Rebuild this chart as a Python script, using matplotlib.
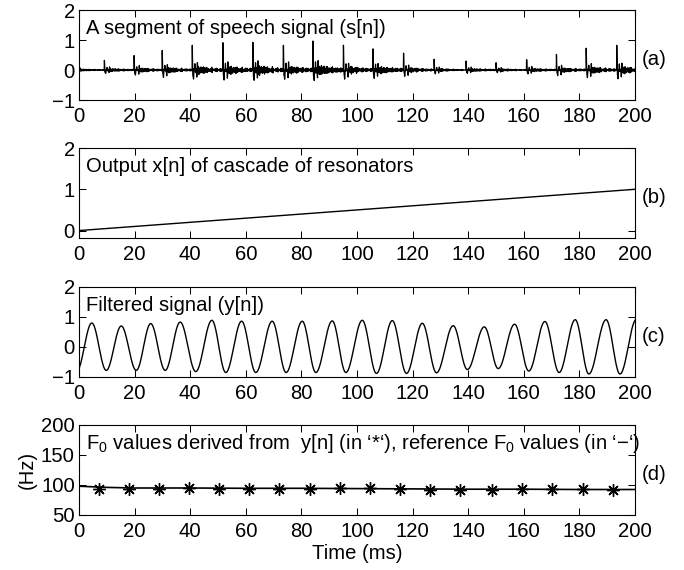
import numpy as np
import matplotlib
matplotlib.use("Agg")
import matplotlib.pyplot as plt

FS = 14.6
plt.rcParams["font.family"] = ["Liberation Sans", "DejaVu Sans"]
plt.rcParams["mathtext.fontset"] = "custom"
plt.rcParams["mathtext.rm"] = "Liberation Sans"
plt.rcParams["font.size"] = FS

# (a) speech: glottal pulse instants (ms) and peak amplitudes
pulse_t = [-1.5, 9.1, 19.8, 29.9, 40.7, 51.7, 62.5, 73.5, 84.1, 95.1, 105.7,
           116.7, 127.7, 139.2, 150.0, 161.0, 171.7, 182.4, 193.4]
pulse_a = [0.2, 0.29, 0.43, 0.59, 0.78, 0.84, 0.91, 0.78, 0.86, 0.73, 0.64,
           0.53, 0.35, 0.27, 0.24, 0.33, 0.48, 0.65, 0.75]

# (b) resonator cascade output (straight ramp)
ramp_t = [0, 200]
ramp_x = [0, 1]

# (c) filtered signal: extrema (ms, value)
ext_t = [-0.8, 4.6, 9.8, 15.2, 20.6, 25.8, 31.0, 36.4, 42.0, 47.8, 52.8, 58.5,
         63.6, 69.5, 74.5, 80.3, 85.2, 91.1, 96.0, 101.9, 107.0, 112.7, 117.8,
         123.5, 128.6, 134.6, 139.7, 145.8, 150.8, 156.7, 161.8, 167.6, 172.7,
         178.5, 183.4, 189.6, 194.6, 200.5]
ext_v = [-0.80, 0.80, -0.78, 0.70, -0.78, 0.78, -0.78, 0.83, -0.82, 0.89, -0.85,
         0.86, -0.85, 0.86, -0.85, 0.86, -0.85, 0.87, -0.85, 0.89, -0.88, 0.88,
         -0.88, 0.79, -0.86, 0.71, -0.75, 0.67, -0.72, 0.76, -0.80, 0.85, -0.85,
         0.91, -0.90, 0.91, -0.90, 0.92]

# (d) F0 estimates (*) and reference F0 contour (-)
f0_t = [7.2, 18.1, 28.9, 39.6, 50.4, 61.3, 72.1, 83.0, 93.8, 104.6, 115.3,
        126.2, 137.2, 148.5, 159.3, 170.2, 181.2, 192.2]
f0_est = [93, 94, 94, 95, 94, 94, 93, 94, 95, 95, 94, 92, 91, 92, 94, 93, 93, 92]
ref_t = [0, 10, 20, 40, 60, 80, 100, 120, 140, 160, 180, 200]
ref_f0 = [98, 96, 95, 95, 94.5, 94.5, 94, 93.5, 93, 93, 92.5, 92.5]


def speech(t):
    # each pulse excites a few damped resonances (frequencies in kHz, t in ms)
    s = np.zeros_like(t)
    for tk, a in zip(pulse_t, pulse_a):
        tau = t - tk
        m = tau >= 0
        u = tau[m]
        r = (0.5 * np.exp(-u / 1.0) * np.cos(2 * np.pi * 1.0 * u)
             + 0.38 * np.exp(-u / 0.35) * np.cos(2 * np.pi * 3.0 * u)
             + 0.22 * np.exp(-u / 3.0) * np.sin(2 * np.pi * 2.3 * u)
             + 0.14 * np.exp(-u / 3.5) * np.sin(2 * np.pi * 1.6 * u + 0.5)
             + 0.10 * np.exp(-u / 7.0) * np.sin(2 * np.pi * 2.7 * u + 1.0)
             + 0.08 * np.exp(-u / 14.0) * np.sin(2 * np.pi * 3.3 * u))
        s[m] += a * r
    return s


def smooth_extrema(tx, vx, t):
    y = np.empty_like(t)
    for i in range(len(tx) - 1):
        m = (t >= tx[i]) & (t <= tx[i + 1])
        u = (t[m] - tx[i]) / (tx[i + 1] - tx[i])
        y[m] = vx[i] + (vx[i + 1] - vx[i]) * (1 - np.cos(np.pi * u)) / 2
    return y


fig = plt.figure(figsize=(6.84, 5.7), dpi=100)
L, W, H = 79 / 684, 556 / 684, 90 / 570
bottoms = [1 - 100 / 570, 1 - 238 / 570, 1 - 377 / 570, 1 - 515 / 570]
axs = [fig.add_axes([L, b, W, H]) for b in bottoms]

ts = np.arange(0, 200.0001, 0.0625)
axs[0].plot(ts, speech(ts), color="k", lw=0.9)
axs[0].set_ylim(-1, 2)
axs[0].set_yticks([-1, 0, 1, 2])

axs[1].plot(ramp_t, ramp_x, color="k", lw=1.0)
axs[1].set_ylim(-0.18, 2)
axs[1].set_yticks([0, 1, 2])

tc = np.arange(0, 200.0001, 0.05)
axs[2].plot(tc, smooth_extrema(ext_t, ext_v, tc), color="k", lw=1.0)
axs[2].set_ylim(-1, 2)
axs[2].set_yticks([-1, 0, 1, 2])

axs[3].plot(ref_t, ref_f0, color="k", lw=1.2)
axs[3].plot(f0_t, f0_est, ls="none", marker=(8, 2, 0), ms=9, mew=1.0, color="k")
axs[3].set_ylim(50, 200)
axs[3].set_yticks([50, 100, 150, 200])
axs[3].set_ylabel("(Hz)", labelpad=3)
axs[3].set_xlabel("Time (ms)", labelpad=2)

titles = ["A segment of speech signal (s[n])",
          "Output x[n] of cascade of resonators",
          "Filtered signal (y[n])",
          r"F$_\mathrm{0}$ values derived from  y[n] (in ‘*‘), reference F$_\mathrm{0}$ values (in ‘−‘)"]
tags = ["(a)", "(b)", "(c)", "(d)"]
for ax, ttl, tag in zip(axs, titles, tags):
    ax.set_xlim(0, 200)
    ax.set_xticks(range(0, 201, 20))
    ax.tick_params(direction="in", top=True, right=True, length=5, width=0.75,
                   labelsize=FS)
    ax.tick_params(axis="x", pad=5)
    ax.tick_params(axis="y", pad=3)
    for sp in ax.spines.values():
        sp.set_linewidth(0.8)
    ax.text(0.013, 0.73, ttl, transform=ax.transAxes, ha="left", va="baseline")
    ax.text(1.013, 0.45, tag, transform=ax.transAxes, ha="left", va="center")

fig.savefig("out.png", dpi=100)
